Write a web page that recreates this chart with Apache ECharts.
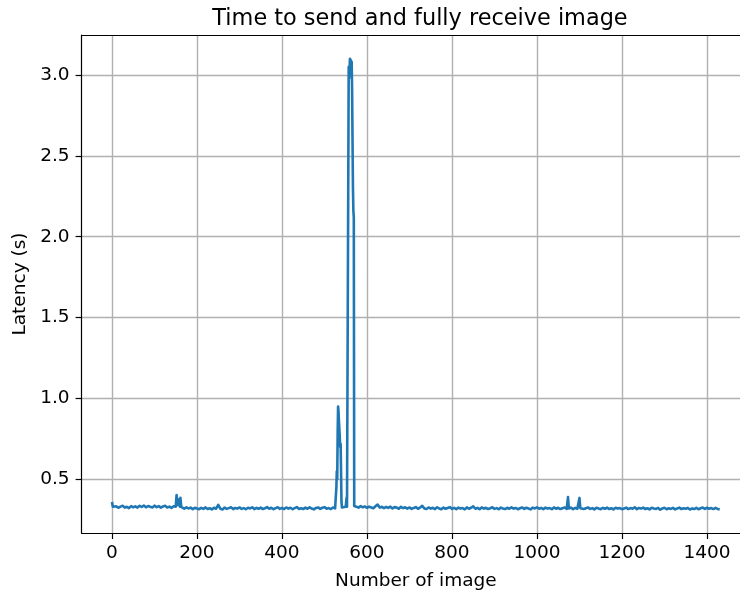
<!DOCTYPE html>
<html>
<head>
<meta charset="utf-8">
<script src="https://cdn.jsdelivr.net/npm/echarts@6/dist/echarts.min.js"></script>
<style>
  html, body { margin: 0; padding: 0; background: #ffffff; }
  #chart { width: 740px; height: 595px; }
</style>
</head>
<body>
<div id="chart"></div>
<script>
// Latency sampled every 5 images (image 0, 5, 10, ... 1430), in seconds
var sampleStep = 5;
var baseLatency = [
  0.360,0.326,0.333,0.324,0.331,0.336,0.325,0.330,0.322,0.334,
  0.327,0.333,0.325,0.336,0.329,0.338,0.327,0.335,0.330,0.326,
  0.337,0.328,0.334,0.325,0.332,0.336,0.326,0.331,0.323,0.333,
  0.330,0.340,0.330,0.326,0.318,0.327,0.320,0.325,0.316,0.324,
  0.319,0.315,0.323,0.317,0.326,0.316,0.321,0.314,0.324,0.318,
  0.342,0.318,0.314,0.325,0.317,0.322,0.327,0.316,0.323,0.319,
  0.326,0.317,0.322,0.315,0.324,0.320,0.327,0.316,0.323,0.318,
  0.325,0.316,0.321,0.328,0.318,0.324,0.315,0.322,0.327,0.317,
  0.323,0.316,0.326,0.319,0.324,0.315,0.322,0.328,0.317,0.321,
  0.316,0.325,0.318,0.327,0.319,0.314,0.323,0.326,0.317,0.324,
  0.328,0.318,0.322,0.316,0.326,0.320,0.500,0.810,0.360,0.324,
  0.330,0.330,3.100,2.900,0.335,0.331,0.325,0.334,0.327,0.332,
  0.324,0.331,0.326,0.321,0.333,0.344,0.325,0.330,0.322,0.329,
  0.323,0.331,0.320,0.328,0.325,0.318,0.330,0.322,0.327,0.319,
  0.326,0.317,0.323,0.328,0.318,0.325,0.336,0.320,0.316,0.326,
  0.319,0.324,0.316,0.327,0.320,0.315,0.325,0.318,0.323,0.328,
  0.317,0.323,0.315,0.325,0.319,0.322,0.314,0.326,0.318,0.324,
  0.333,0.318,0.323,0.315,0.326,0.319,0.324,0.316,0.321,0.327,
  0.317,0.322,0.315,0.325,0.320,0.316,0.324,0.318,0.327,0.319,
  0.323,0.315,0.321,0.326,0.317,0.324,0.319,0.314,0.325,0.320,
  0.327,0.318,0.323,0.316,0.325,0.319,0.322,0.315,0.326,0.318,
  0.324,0.316,0.321,0.326,0.317,0.320,0.325,0.315,0.323,0.318,
  0.385,0.323,0.316,0.321,0.326,0.317,0.322,0.314,0.324,0.319,
  0.315,0.323,0.318,0.325,0.316,0.321,0.314,0.324,0.319,0.322,
  0.315,0.320,0.325,0.316,0.322,0.318,0.327,0.315,0.323,0.319,
  0.325,0.316,0.321,0.314,0.324,0.319,0.317,0.323,0.312,0.320,
  0.324,0.315,0.321,0.317,0.323,0.314,0.320,0.325,0.316,0.321,
  0.318,0.323,0.313,0.320,0.316,0.324,0.315,0.321,0.325,0.317,
  0.324,0.318,0.322,0.316,0.323,0.317,0.314
];

// Individual images around the latency bursts
var burstImages = [
  2,
  151,152,153,154,156,157,158,159,161,162,163,
  526,527,528,529,531,532,533,534,536,537,538,539,541,
  551,552,553,
  556,557,558,559,561,562,563,564,566,567,568,569,
  1072,1073,1074,
  1099,1101,1102
];
var burstLatency = [
  0.330,
  0.331,0.402,0.405,0.395,0.332,0.375,0.385,0.380,0.386,0.378,0.330,
  0.321,0.330,0.450,0.550,0.780,0.950,0.920,0.860,0.760,0.700,0.720,0.550,0.326,
  0.330,0.385,0.331,
  0.340,3.050,2.980,3.040,3.110,3.100,3.090,3.080,2.600,2.300,2.160,2.120,
  0.321,0.390,0.386,
  0.320,0.380,0.321
];

var xTicks = [0, 200, 400, 600, 800, 1000, 1200, 1400];
var yTicks = [0.5, 1.0, 1.5, 2.0, 2.5, 3.0];

// Merge both sets into one series ordered by image number
var points = baseLatency.map(function (v, i) { return [i * sampleStep, v]; });
burstImages.forEach(function (img, i) { points.push([img, burstLatency[i]]); });
points.sort(function (a, b) { return a[0] - b[0]; });

var FONT = 'DejaVu Sans';
var chart = echarts.init(document.getElementById('chart'), null, { renderer: 'canvas' });

chart.setOption({
  animation: false,
  backgroundColor: '#ffffff',
  title: {
    text: 'Time to send and fully receive image',
    left: 415, top: 3, textAlign: 'center',
    textStyle: { fontFamily: FONT, fontWeight: 'normal', fontSize: 22.4, color: '#000' }
  },
  grid: {
    left: 81.6, top: 35, right: -10.1, bottom: 62,
    containLabel: false, outerBoundsMode: 'none'
  },
  xAxis: [{
    type: 'value',
    min: -71.5, max: 1501.5, splitNumber: 8,
    name: 'Number of image', nameLocation: 'middle', nameGap: 39,
    nameTextStyle: { fontFamily: FONT, fontSize: 18.5, color: '#000' },
    axisLine: { show: true, onZero: false, lineStyle: { color: '#000', width: 1.2 } },
    axisTick: { show: true, length: 6, customValues: xTicks, lineStyle: { color: '#000', width: 1.2 } },
    axisLabel: {
      customValues: xTicks, margin: 11, fontFamily: FONT, fontSize: 18.5, color: '#000',
      formatter: function (v) { return String(v); }
    },
    splitLine: { show: true, lineStyle: { color: '#b0b0b0', width: 1.4 } }
  }, {
    type: 'value', position: 'top',
    min: -71.5, max: 1501.5,
    axisLine: { show: true, onZero: false, lineStyle: { color: '#000', width: 1.2 } },
    axisTick: { show: false }, axisLabel: { show: false }, splitLine: { show: false }
  }],
  yAxis: {
    type: 'value',
    min: 0.168, max: 3.247, splitNumber: 6,
    name: 'Latency (s)', nameLocation: 'middle', nameGap: 49,
    nameTextStyle: { fontFamily: FONT, fontSize: 18.5, color: '#000' },
    axisLine: { show: true, onZero: false, lineStyle: { color: '#000', width: 1.2 } },
    axisTick: { show: true, length: 6, customValues: yTicks, lineStyle: { color: '#000', width: 1.2 } },
    axisLabel: {
      customValues: yTicks, margin: 12, fontFamily: FONT, fontSize: 18.5, color: '#000',
      formatter: function (v) { return v.toFixed(1); }
    },
    splitLine: { show: true, lineStyle: { color: '#b0b0b0', width: 1.4 } }
  },
  series: [{
    type: 'line',
    xAxisIndex: 0,
    data: points,
    showSymbol: false,
    symbol: 'none',
    clip: true,
    lineStyle: { color: '#1f77b4', width: 2.6, join: 'round', cap: 'butt' }
  }]
});
</script>
</body>
</html>
